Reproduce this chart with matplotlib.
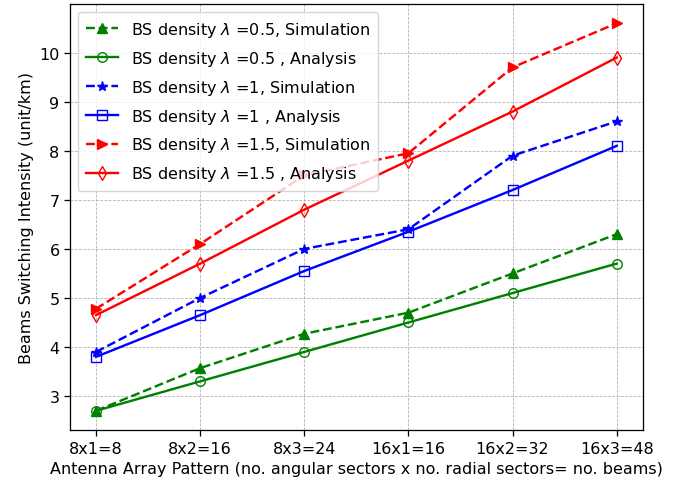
import matplotlib
matplotlib.use("Agg")
import matplotlib.pyplot as plt

categories = ["8x1=8", "8x2=16", "8x3=24", "16x1=16", "16x2=32", "16x3=48"]
green_sim = [2.7, 3.57, 4.27, 4.7, 5.5, 6.3]
green_ana = [2.7, 3.3, 3.9, 4.5, 5.1, 5.7]
blue_sim = [3.9, 5.0, 6.0, 6.4, 7.9, 8.6]
blue_ana = [3.8, 4.65, 5.55, 6.35, 7.2, 8.1]
red_sim = [4.78, 6.1, 7.5, 7.95, 9.7, 10.6]
red_ana = [4.65, 5.7, 6.8, 7.8, 8.8, 9.9]

s = 1.15
plt.rcParams['font.size'] = 10 * s
plt.rcParams['lines.linewidth'] = 1.5 * s
plt.rcParams['lines.markersize'] = 6 * s
plt.rcParams['axes.linewidth'] = 0.8 * s
plt.rcParams['xtick.major.width'] = 0.8 * s
plt.rcParams['ytick.major.width'] = 0.8 * s
plt.rcParams['xtick.major.size'] = 3.5 * s
plt.rcParams['ytick.major.size'] = 3.5 * s

fig = plt.figure(figsize=(6.73, 4.85), dpi=100)
ax = fig.add_axes([0.104, 0.111, 0.851, 0.879])
x = list(range(len(categories)))

ax.plot(x, green_sim, 'g--^', label=r"BS density $\lambda$ =0.5, Simulation")
ax.plot(x, green_ana, 'g-o', mfc='none', label=r"BS density $\lambda$ =0.5 , Analysis")
ax.plot(x, blue_sim, 'b--*', label=r"BS density $\lambda$ =1, Simulation")
ax.plot(x, blue_ana, 'b-s', mfc='none', label=r"BS density $\lambda$ =1 , Analysis")
ax.plot(x, red_sim, 'r-->', label=r"BS density $\lambda$ =1.5, Simulation")
ax.plot(x, red_ana, 'r-d', mfc='none', label=r"BS density $\lambda$ =1.5 , Analysis")

ax.set_xticks(x)
ax.set_xticklabels(categories)
ax.grid(True, linestyle='--', linewidth=0.5 * s)
ax.set_xlabel("Antenna Array Pattern (no. angular sectors x no. radial sectors= no. beams)")
ax.set_ylabel("Beams Switching Intensity (unit/km)")
ax.legend(loc='upper left', labelspacing=0.62, borderpad=0.5)

fig.savefig("out.png", dpi=100)
